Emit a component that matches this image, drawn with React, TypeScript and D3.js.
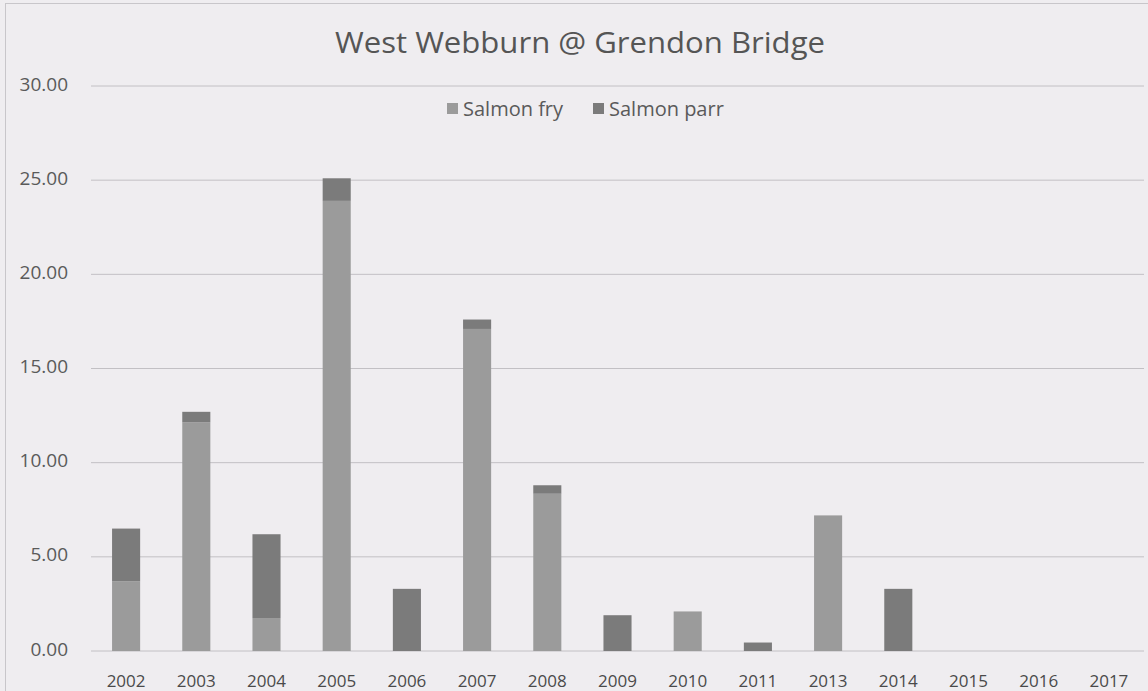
import React from "react";
import * as d3 from "d3";

const years = ["2002","2003","2004","2005","2006","2007","2008","2009","2010","2011","2013","2014","2015","2016","2017"];
const salmonFry = [3.7, 12.15, 1.75, 23.9, 0, 17.1, 8.35, 0, 2.1, 0, 7.2, 0, 0, 0, 0];
const salmonParr = [2.8, 0.55, 4.45, 1.2, 3.3, 0.5, 0.45, 1.9, 0, 0.45, 0, 3.3, 0, 0, 0];
const yTicks = [0, 5, 10, 15, 20, 25, 30];
const seriesNames = ["Salmon fry", "Salmon parr"];

const W = 1148, H = 691;
const FONT = "'Open Sans', 'Liberation Sans', sans-serif";
const colors = ["#9b9b9b", "#7b7b7b"];

export default function App() {
  const x = d3.scaleBand().domain(years).range([91, 1144]).paddingInner(0.6).paddingOuter(0.3);
  const y = d3.scaleLinear().domain([0, 30]).range([651, 86]);
  const rows = years.map((yr, i) => ({ year: yr, fry: salmonFry[i], parr: salmonParr[i] }));
  const stack = d3.stack<any>().keys(["fry", "parr"])(rows);
  return (
    <svg width={W} height={H} style={{ position: "absolute", left: 0, top: 0, background: "#efedf0" }}>
      <rect x={0} y={0} width={W} height={H} fill="#efedf0" />
      <rect x={5.5} y={3.5} width={W + 10} height={H + 10} fill="none" stroke="#c8c6ca" strokeWidth={1} />
      {yTicks.map((t) => (
        <g key={t}>
          <line x1={91} x2={1144} y1={y(t)} y2={y(t)} stroke="#c2c0c4" strokeWidth={1} />
          <text x={68} y={y(t) - 2} dy="0.35em" textAnchor="end" fontFamily={FONT} fontSize={19} fill="#5a5a5a">
            {t.toFixed(2)}
          </text>
        </g>
      ))}
      {stack.map((s, si) => (
        <g key={si} fill={colors[si]}>
          {s.map((d: any, i: number) =>
            d[1] - d[0] > 0 ? (
              <rect key={i} x={x(years[i])} width={x.bandwidth()} y={y(d[1])} height={y(d[0]) - y(d[1])} />
            ) : null
          )}
        </g>
      ))}
      {years.map((yr) => (
        <text key={yr} x={(x(yr) as number) + x.bandwidth() / 2} y={687} textAnchor="middle" fontFamily={FONT} fontSize={17} fill="#4a4a4a">
          {yr}
        </text>
      ))}
      <text x={580} y={53} textAnchor="middle" fontFamily={FONT} fontSize={29} fill="#555" textLength={490} lengthAdjust="spacingAndGlyphs">
        West Webburn @ Grendon Bridge
      </text>
      {seriesNames.map((n, i) => {
        const lx = [447, 593][i];
        return (
          <g key={n}>
            <rect x={lx} y={103} width={11} height={11} fill={colors[i]} />
            <text x={lx + 16} y={116} fontFamily={FONT} fontSize={20} fill="#5a5a5a">{n}</text>
          </g>
        );
      })}
    </svg>
  );
}
